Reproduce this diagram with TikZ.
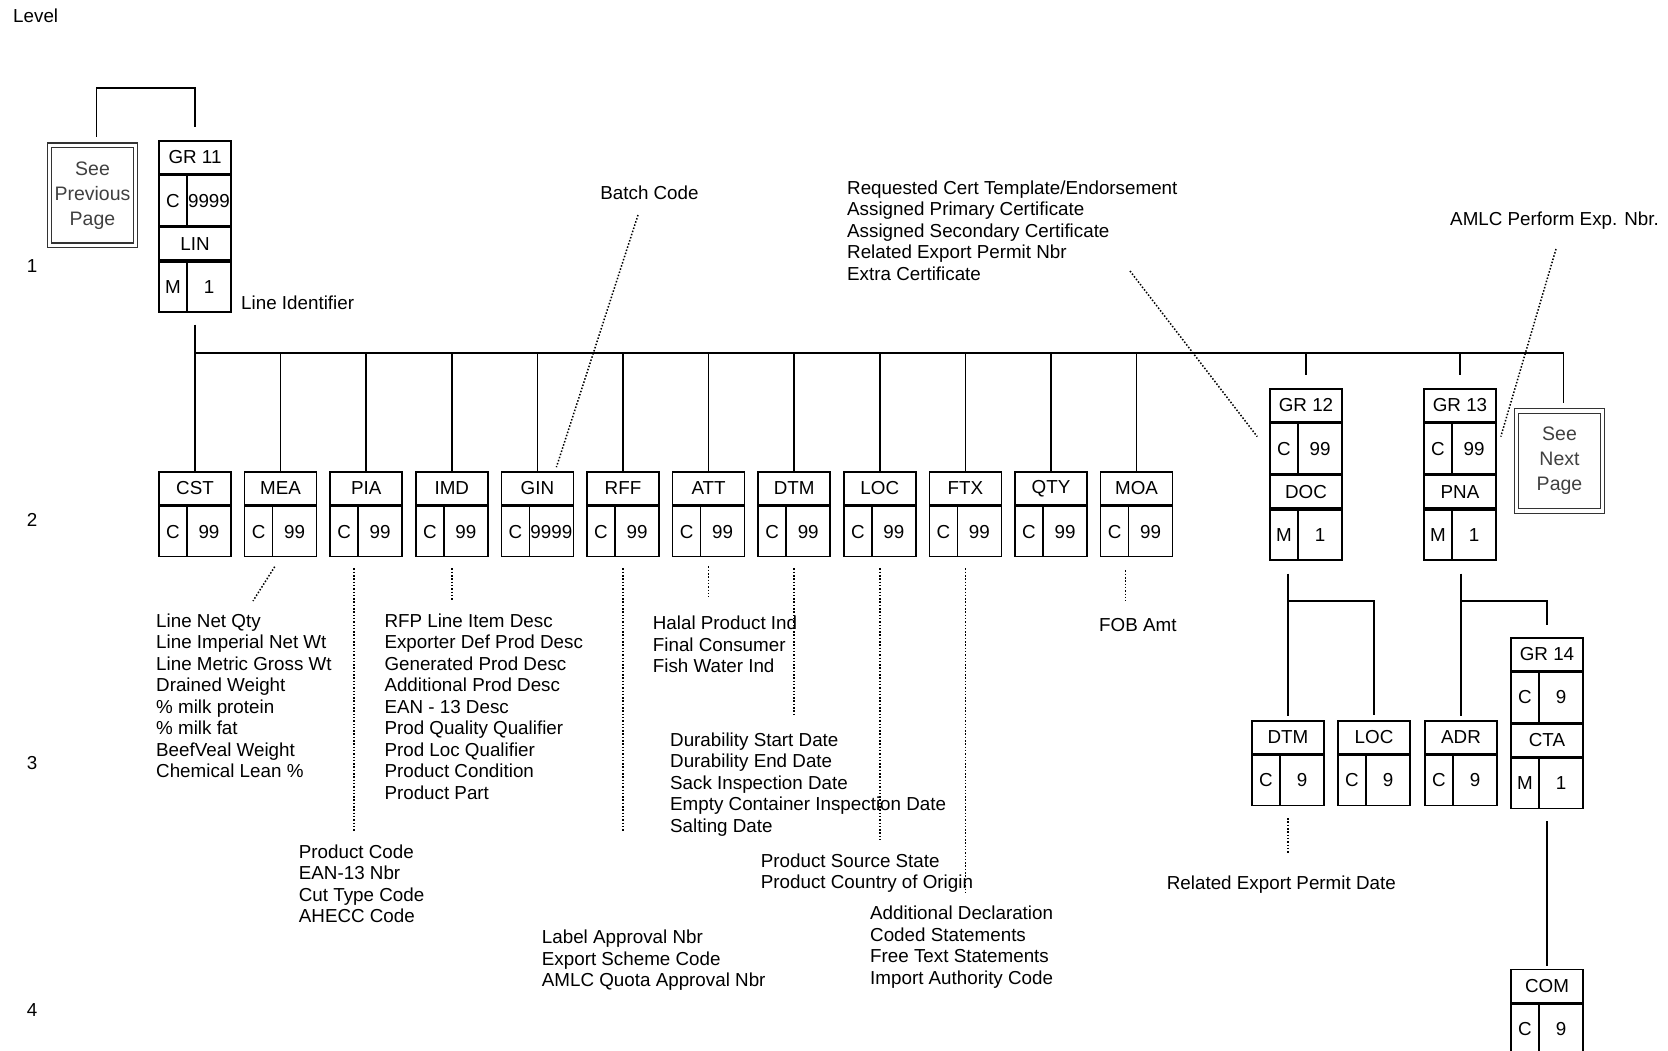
\documentclass[tikz,border=0pt]{standalone}
\usepackage{fontspec}
\setmainfont{Liberation Sans}
\usetikzlibrary{calc}

\begin{document}
\begin{tikzpicture}[
    x=1pt, y=-1pt,
    font=\fontsize{18.8}{21.5}\selectfont,
    tagbox/.style={draw, line width=1.6pt, minimum width=72pt, minimum height=33pt, inner sep=0pt},
    statbox/.style={tagbox, minimum width=28pt, minimum height=50pt},
    repbox/.style={tagbox, minimum width=44pt, minimum height=50pt},
    pagebox/.style={draw=black!80, double, double distance=3.5pt, line width=1.2pt, minimum width=86pt, minimum height=100pt, inner sep=0pt, align=center, text=black!75, font=\fontsize{19.5}{25}\selectfont},
    txt/.style={inner sep=0pt, align=left},
    link/.style={line width=1.6pt},
    note/.style={line width=1.5pt, dash pattern=on 1.5pt off 1.8pt}
]
\useasboundingbox (0,0) rectangle (1668,1050);

% levels
\node[txt, anchor=west] (lvl) at (13,16) {Level};
\node[txt] (lvl1) at (32,266) {1};
\node[txt] (lvl2) at (32,520) {2};
\node[txt] (lvl3) at (32,763) {3};
\node[txt] (lvl4) at (32,1010) {4};

\coordinate (topy) at (0,88);
\coordinate (busy) at (0,353);
\coordinate (forky) at (0,601);

% level 1
\node[pagebox] (prevpg) at (92.5,195.3) {See\\Previous\\Page};
\node[tagbox] (gr11) at (195,157.5) {GR 11};
\node[statbox, anchor=north west] (gr11-c) at (gr11.south west) {C};
\node[repbox, anchor=north east] (gr11-n) at (gr11.south east) {9999};
\node[tagbox, anchor=north] (lin) at (gr11-c.south -| gr11.south) {LIN};
\node[statbox, anchor=north west] (lin-c) at (lin.south west) {M};
\node[repbox, anchor=north east] (lin-n) at (lin.south east) {1};

% level 2
\foreach \nm/\tag/\rep [count=\i from 0] in {cst/CST/99, mea/MEA/99, pia/PIA/99, imd/IMD/99, gin/GIN/9999, rff/RFF/99, att/ATT/99, dtm/DTM/99, loc/LOC/99, ftx/FTX/99, qty/QTY/99, moa/MOA/99} {
  \node[tagbox] (\nm) at ({195+85.6*\i},488.5) {\tag};
  \node[statbox, anchor=north west] (\nm-c) at (\nm.south west) {C};
  \node[repbox, anchor=north east] (\nm-n) at (\nm.south east) {\rep};
  \draw[link] (\nm.north |- busy) -- (\nm.north);
}

\node[tagbox] (gr12) at (1306,405.5) {GR 12};
\node[statbox, anchor=north west] (gr12-c) at (gr12.south west) {C};
\node[repbox, anchor=north east] (gr12-n) at (gr12.south east) {99};
\node[tagbox, anchor=north] (doc) at (gr12-c.south -| gr12.south) {DOC};
\node[statbox, anchor=north west] (doc-c) at (doc.south west) {M};
\node[repbox, anchor=north east] (doc-n) at (doc.south east) {1};

\node[tagbox] (gr13) at (1460,405.5) {GR 13};
\node[statbox, anchor=north west] (gr13-c) at (gr13.south west) {C};
\node[repbox, anchor=north east] (gr13-n) at (gr13.south east) {99};
\node[tagbox, anchor=north] (pna) at (gr13-c.south -| gr13.south) {PNA};
\node[statbox, anchor=north west] (pna-c) at (pna.south west) {M};
\node[repbox, anchor=north east] (pna-n) at (pna.south east) {1};

\node[pagebox] (nextpg) at (1559.5,461) {See\\Next\\Page};

% level 3
\node[tagbox] (dtm2) at (1288,737.2) {DTM};
\node[statbox, anchor=north west] (dtm2-c) at (dtm2.south west) {C};
\node[repbox, anchor=north east] (dtm2-n) at (dtm2.south east) {9};
\node[tagbox] (loc2) at (1374,737.2) {LOC};
\node[statbox, anchor=north west] (loc2-c) at (loc2.south west) {C};
\node[repbox, anchor=north east] (loc2-n) at (loc2.south east) {9};
\node[tagbox] (adr) at (1461,737.2) {ADR};
\node[statbox, anchor=north west] (adr-c) at (adr.south west) {C};
\node[repbox, anchor=north east] (adr-n) at (adr.south east) {9};

\node[tagbox] (gr14) at (1547,654.2) {GR 14};
\node[statbox, anchor=north west] (gr14-c) at (gr14.south west) {C};
\node[repbox, anchor=north east] (gr14-n) at (gr14.south east) {9};
\node[tagbox, anchor=north] (cta) at (gr14-c.south -| gr14.south) {CTA};
\node[statbox, anchor=north west] (cta-c) at (cta.south west) {M};
\node[repbox, anchor=north east] (cta-n) at (cta.south east) {1};

% level 4
\node[tagbox] (com) at (1547,985.8) {COM};
\node[statbox, anchor=north west] (com-c) at (com.south west) {C};
\node[repbox, anchor=north east] (com-n) at (com.south east) {9};

% tree lines
\draw[link, shorten <=8pt, shorten >=13pt] ([xshift=4pt]prevpg.north) |- (topy -| gr11.north) -- (gr11.north);
\draw[link, shorten <=12pt, shorten >=7pt] (lin.center |- lin-c.south) -- (lin.center |- busy) -| ([xshift=4pt]nextpg.north);
\draw[link, shorten >=13pt] (gr12.north |- busy) -- (gr12.north);
\draw[link, shorten >=13pt] (gr13.north |- busy) -- (gr13.north);
\draw[link, shorten <=13pt, shorten >=4pt] (dtm2.north |- doc-c.south) -- (dtm2.north);
\draw[link, shorten >=5pt] (dtm2.north |- forky) -| (loc2.north);
\draw[link, shorten <=13pt, shorten >=4pt] (adr.north |- pna-c.south) -- (adr.north);
\draw[link, shorten >=12pt] (adr.north |- forky) -| (gr14.north);
\draw[link, shorten <=12pt, shorten >=3pt] (cta.center |- cta-c.south) -- (com.north);

% notes
\node[txt, anchor=west] (lineid) at (241,303) {Line Identifier};
\node[txt] (batch) at (649.5,192.5) {Batch Code};
\node[txt, anchor=north west] (reqcert) at (847,180.5) {Requested Cert Template/Endorsement\\Assigned Primary Certificate\\Assigned Secondary Certificate\\Related Export Permit Nbr\\Extra Certificate};
\node[txt, anchor=west] (amlc) at (1450,221) {AMLC Perform Exp. Nbr.};
\node[txt, anchor=north west] (netqty) at (156,613.4) {Line Net Qty\\Line Imperial Net Wt\\Line Metric Gross Wt\\Drained Weight\\\% milk protein\\\% milk fat\\BeefVeal Weight\\Chemical Lean \%};
\node[txt, anchor=north west] (rfp) at (384.3,613.4) {RFP Line Item Desc\\Exporter Def Prod Desc\\Generated Prod Desc\\Additional Prod Desc\\EAN - 13 Desc\\Prod Quality Qualifier\\Prod Loc Qualifier\\Product Condition\\Product Part};
\node[txt, anchor=north west] (pcode) at (298.7,844.4) {Product Code\\EAN-13 Nbr\\Cut Type Code\\AHECC Code};
\node[txt, anchor=north west] (halal) at (652.7,616) {Halal Product Ind\\Final Consumer\\Fish Water Ind};
\node[txt, anchor=north west] (durab) at (670,732.4) {Durability Start Date\\Durability End Date\\Sack Inspection Date\\Empty Container Inspection Date\\Salting Date};
\node[txt, anchor=north west] (origin) at (760.7,853.4) {Product Source State\\Product Country of Origin};
\node[txt, anchor=north west] (labelapp) at (541.7,930) {Label Approval Nbr\\Export Scheme Code\\AMLC Quota Approval Nbr};
\node[txt, anchor=north west] (adddecl) at (870,906) {Additional Declaration\\Coded Statements\\Free Text Statements\\Import Authority Code};
\node[txt, anchor=west] (fob) at (1099,625.5) {FOB Amt};
\node[txt, anchor=west] (relexp) at (1166.7,884.3) {Related Export Permit Date};

\coordinate (batch-tail) at (638,215);
\coordinate (cert-tail) at (1130,271);
\coordinate (amlc-tail) at (1556,249);
\coordinate (mea-tail) at (253,601);

\draw[note] (batch-tail) -- ($(gin.north)+(19,-4)$);
\draw[note] (cert-tail) -- ($(gr12-c.west)+(-12,-12)$);
\draw[note] (amlc-tail) -- ($(gr13-n.east)+(4,-12)$);
\draw[note, shorten <=11pt] (mea.center |- mea-c.south) -- (mea-tail);
\draw[note, shorten <=11pt, shorten >=13pt] ($(pia.center |- pia-c.south)+(-12,0)$) -- ($(pia.center |- pcode.north)+(-12,0)$);
\draw[note, shorten <=11pt, shorten >=13pt] (imd.center |- imd-c.south) -- (imd.center |- rfp.north);
\draw[note, shorten <=11pt, shorten >=13pt] (rff.center |- rff-c.south) -- (rff.center |- pcode.north);
\draw[note, shorten <=9pt, shorten >=19pt] (att.center |- att-c.south) -- (att.center |- halal.north);
\draw[note, shorten <=11pt, shorten >=17pt] (dtm.center |- dtm-c.south) -- (dtm.center |- durab.north);
\draw[note, shorten <=11pt, shorten >=13pt] (loc.center |- loc-c.south) -- (loc.center |- origin.north);
\draw[note, shorten <=11pt, shorten >=13pt] (ftx.center |- ftx-c.south) -- (ftx.center |- adddecl.north);
\draw[note, shorten <=13pt, shorten >=18pt] ($(moa.center |- moa-c.south)+(-11,0)$) -- ($(moa.center |- fob.north)+(-11,0)$);
\draw[note, shorten <=12pt, shorten >=21pt] (dtm2.center |- dtm2-c.south) -- (dtm2.center |- relexp.north);
\end{tikzpicture}
\end{document}
